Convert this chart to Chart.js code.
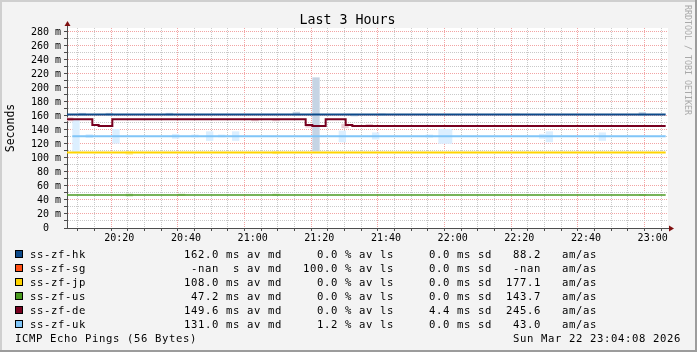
<!DOCTYPE html>
<html>
<head>
<meta charset="utf-8">
<script src="https://cdn.jsdelivr.net/npm/chart.js@4/dist/chart.umd.min.js"></script>
<style>
  html, body { margin: 0; padding: 0; background: #f3f3f3; }
  canvas { display: block; }
</style>
</head>
<body>
<canvas id="grafico" width="697" height="352"></canvas>
<script>
// Rango del eje x, minutos desde medianoche (20:04 .. 23:04)
const T_INICIO = 1204.3;
const T_FIN = 1384.6;
const Y_MAX = 285.7;

// Leyenda
const hosts = ['ss-zf-hk', 'ss-zf-sg', 'ss-zf-jp', 'ss-zf-us', 'ss-zf-de', 'ss-zf-uk'];
const colores = ['#0d4a8a', '#ff4f14', '#ffd400', '#4a9a20', '#78001f', '#80c5f8'];
const medianas = [162.0, NaN, 108.0, 47.2, 149.6, 131.0];
const unidades = ['ms', ' s', 'ms', 'ms', 'ms', 'ms'];
const perdidas = [0.0, 100.0, 0.0, 0.0, 0.0, 1.2];
const desvios = [0.0, 0.0, 0.0, 0.0, 4.4, 0.0];
const amas = [88.2, NaN, 177.1, 143.7, 245.6, 43.0];

// Lineas de mediana (ms), cambios escalonados
const hkT = [1204.3, 1383.9], hkV = [162.0, 162.0];
const jpT = [1204.3, 1383.9], jpV = [108.0, 108.0];
const usT = [1204.3, 1383.9], usV = [47.2, 47.2];
const deT = [1204.3, 1211.9, 1213.8, 1217.9, 1275.9, 1277.9, 1281.9, 1287.9, 1289.9, 1383.9];
const deV = [155.3, 147.0, 145.7, 155.3, 147.0, 145.7, 155.3, 147.0, 145.7, 145.7];
const ukT = [1205.9, 1383.9], ukV = [131.0, 131.0];

// "Humo": rango min-max de cada intervalo visible
const ukHumoT = [1207.0, 1211.0, 1219.0, 1236.9, 1242.7, 1247.1, 1250.7, 1254.9, 1286.9, 1296.9, 1313.0, 1316.8, 1318.8, 1347.0, 1349.0, 1364.9];
const ukHumoMin = [109, 129, 121, 128, 130, 125, 130, 125, 123, 127, 129.5, 120.7, 120.7, 128, 123, 125];
const ukHumoMax = [155.7, 133.5, 141, 134, 133, 137.6, 133, 137.6, 138.6, 136, 133, 141, 141, 134, 137.6, 136];
const hkHumoT = [1208.9, 1217.0, 1235.0, 1273.1, 1279.0, 1290.5, 1298.8, 1339.0, 1376.9];
const hkHumoMin = [161, 161, 161, 161, 110, 160, 161, 161, 161];
const hkHumoMax = [164, 164, 164, 165.5, 214.7, 162.5, 163, 163, 165];
const deHumoT = [1205.1, 1260.7, 1267.0, 1276.9, 1287.7, 1295.0];
const deHumoMin = [153, 153, 153, 144, 143, 145];
const deHumoMax = [157.5, 155.5, 155.5, 147, 148.5, 148];
const jpHumoT = [1223.0, 1267.0];
const jpHumoMin = [105, 106];
const jpHumoMax = [109, 109];
const usHumoT = [1223.0, 1238.7, 1267.0, 1377.0];
const usHumoMin = [45.5, 46.5, 46.5, 46.5];
const usHumoMax = [48.6, 48.5, 48.5, 48];
const humoColores = { hk: '#c6d4e4', de: '#eaccd4', jp: '#fdf0b0', us: '#c9e3b8', uk: '#dcefff' };

const MONO = "'DejaVu Sans Mono', monospace";

function puntos(t, v) {
  return t.map((x, i) => ({ x: x, y: v[i] }));
}

function armarHumo() {
  const datos = [];
  const fondo = [];
  const grupos = [
    ['uk', ukHumoT, ukHumoMin, ukHumoMax],
    ['hk', hkHumoT, hkHumoMin, hkHumoMax],
    ['de', deHumoT, deHumoMin, deHumoMax],
    ['jp', jpHumoT, jpHumoMin, jpHumoMax],
    ['us', usHumoT, usHumoMin, usHumoMax]
  ];
  grupos.forEach(([k, t, lo, hi]) => {
    t.forEach((x, i) => {
      datos.push({ x: x, y: [lo[i], hi[i]] });
      fondo.push(humoColores[k]);
    });
  });
  return { datos, fondo };
}

function hhmm(v) {
  const m = Math.round(v);
  return String(Math.floor(m / 60)).padStart(2, '0') + ':' + String(m % 60).padStart(2, '0');
}

function fmt(v) {
  return (isNaN(v) ? '-nan' : v.toFixed(1)).padStart(5);
}

// Texto monoespaciado caracter por caracter
function textoMono(ctx, str, x, y, paso) {
  for (let i = 0; i < str.length; i++) ctx.fillText(str[i], x + i * paso, y);
}

function linea(label, t, v, color, ancho) {
  return {
    type: 'line', label: label, data: puntos(t, v), borderColor: color, borderWidth: ancho,
    stepped: true, pointRadius: 0, fill: false, order: 0
  };
}

const humo = armarHumo();

const marco = {
  id: 'marco',
  beforeDraw(chart) {
    const { ctx, chartArea: a, width, height } = chart;
    ctx.save();
    ctx.fillStyle = '#f3f3f3';
    ctx.fillRect(0, 0, width, height);
    ctx.fillStyle = '#cfcfcf';
    ctx.fillRect(0, 0, width, 2);
    ctx.fillRect(0, 0, 2, height);
    ctx.fillStyle = '#9c9c9c';
    ctx.fillRect(0, height - 2, width, 2);
    ctx.fillRect(width - 2, 0, 2, height);
    ctx.fillStyle = '#ffffff';
    ctx.fillRect(a.left, a.top, a.right - a.left, a.bottom - a.top);
    ctx.restore();
  },
  afterDraw(chart) {
    const { ctx, chartArea: a } = chart;
    ctx.save();
    // flechas de los ejes
    ctx.strokeStyle = '#4d4d4d';
    ctx.lineWidth = 1;
    ctx.beginPath();
    ctx.moveTo(a.left + 0.5, a.top);
    ctx.lineTo(a.left + 0.5, a.top - 3);
    ctx.moveTo(a.right, a.bottom + 0.5);
    ctx.lineTo(a.right + 2, a.bottom + 0.5);
    ctx.stroke();
    ctx.fillStyle = '#7f1010';
    ctx.beginPath();
    ctx.moveTo(a.left + 0.5, a.top - 7);
    ctx.lineTo(a.left - 2.5, a.top - 2);
    ctx.lineTo(a.left + 3.5, a.top - 2);
    ctx.closePath();
    ctx.fill();
    ctx.beginPath();
    ctx.moveTo(a.right + 6, a.bottom + 0.5);
    ctx.lineTo(a.right + 1, a.bottom - 2.5);
    ctx.lineTo(a.right + 1, a.bottom + 3.5);
    ctx.closePath();
    ctx.fill();

    // titulo
    ctx.fillStyle = '#000';
    ctx.font = '13.3px ' + MONO;
    ctx.textAlign = 'center';
    ctx.textBaseline = 'alphabetic';
    ctx.fillText('Last 3 Hours', 347.5, 24);

    // marca de agua vertical
    ctx.save();
    ctx.translate(687, 5);
    ctx.rotate(Math.PI / 2);
    ctx.font = '8.3px ' + MONO;
    ctx.fillStyle = '#a9a9a9';
    ctx.textAlign = 'left';
    ctx.textBaseline = 'middle';
    ctx.fillText('RRDTOOL / TOBI OETIKER', 0, 0);
    ctx.restore();

    // tabla de leyenda
    ctx.textAlign = 'left';
    ctx.font = '10.6px ' + MONO;
    hosts.forEach((h, i) => {
      const y = 258 + i * 14;
      ctx.fillStyle = colores[i];
      ctx.fillRect(15, y - 8, 8, 8);
      ctx.strokeStyle = '#000';
      ctx.strokeRect(15.5, y - 7.5, 7, 7);
      const fila = h.padEnd(22) + fmt(medianas[i]) + ' ' + unidades[i] + ' av md' + '   ' +
        fmt(perdidas[i]) + ' % av ls' + '   ' + fmt(desvios[i]) + ' ms sd' + '  ' +
        fmt(amas[i]) + '   am/as';
      ctx.fillStyle = '#000';
      textoMono(ctx, fila, 30, y, 7);
    });
    textoMono(ctx, 'ICMP Echo Pings (56 Bytes)', 15, 342, 7);
    const fecha = 'Sun Mar 22 23:04:08 2026';
    textoMono(ctx, fecha, 681 - fecha.length * 7, 342, 7);
    ctx.restore();
  }
};

const colorGrilla = ctx => (ctx.tick && Math.round(ctx.tick.value) % 20 === 0) ? '#f2a4a4' : '#c9c9c9';

new Chart(document.getElementById('grafico').getContext('2d'), {
  type: 'line',
  data: {
    datasets: [
      linea('ss-zf-hk', hkT, hkV, colores[0], 2),
      linea('ss-zf-de', deT, deV, colores[4], 2),
      linea('ss-zf-uk', ukT, ukV, colores[5], 2),
      linea('ss-zf-jp', jpT, jpV, colores[2], 2),
      linea('ss-zf-us', usT, usV, colores[3], 1.5),
      linea('ss-zf-sg', [], [], colores[1], 2),
      {
        type: 'bar', label: 'humo', data: humo.datos, backgroundColor: humo.fondo,
        borderWidth: 0, barThickness: 6.67, order: 1
      }
    ]
  },
  options: {
    responsive: false,
    maintainAspectRatio: false,
    devicePixelRatio: 1,
    animation: false,
    events: [],
    layout: { padding: { left: 0, right: 29, top: 28, bottom: 0 } },
    plugins: { legend: { display: false }, tooltip: { enabled: false }, title: { display: false } },
    scales: {
      x: {
        type: 'linear', min: T_INICIO, max: T_FIN, offset: false,
        afterFit: s => { s.height = 124; },
        border: { display: true, color: '#4d4d4d', width: 1, dash: [1, 1] },
        grid: { color: colorGrilla, lineWidth: 1, tickColor: '#4d4d4d', tickLength: 3 },
        ticks: {
          stepSize: 5, includeBounds: false, autoSkip: false, maxRotation: 0, padding: 1,
          color: '#000', font: { family: MONO, size: 10 },
          callback: v => (Math.round(v) % 20 === 0 ? hhmm(v) : '')
        }
      },
      y: {
        min: 0, max: Y_MAX,
        afterFit: s => { s.width = 67; },
        border: { display: true, color: '#4d4d4d', width: 1, dash: [1, 1] },
        grid: { color: colorGrilla, lineWidth: 1, tickColor: '#4d4d4d', tickLength: 3 },
        ticks: {
          stepSize: 10, includeBounds: false, autoSkip: false, padding: 3,
          color: '#000', font: { family: MONO, size: 10 },
          callback: v => (Math.round(v) % 20 !== 0 ? '' : (v === 0 ? '0  ' : v + ' m'))
        },
        title: {
          display: true, text: 'Seconds', color: '#000',
          font: { family: MONO, size: 11.5 }, padding: { top: 4, bottom: 0 }
        }
      }
    }
  },
  plugins: [marco]
});
</script>
</body>
</html>
